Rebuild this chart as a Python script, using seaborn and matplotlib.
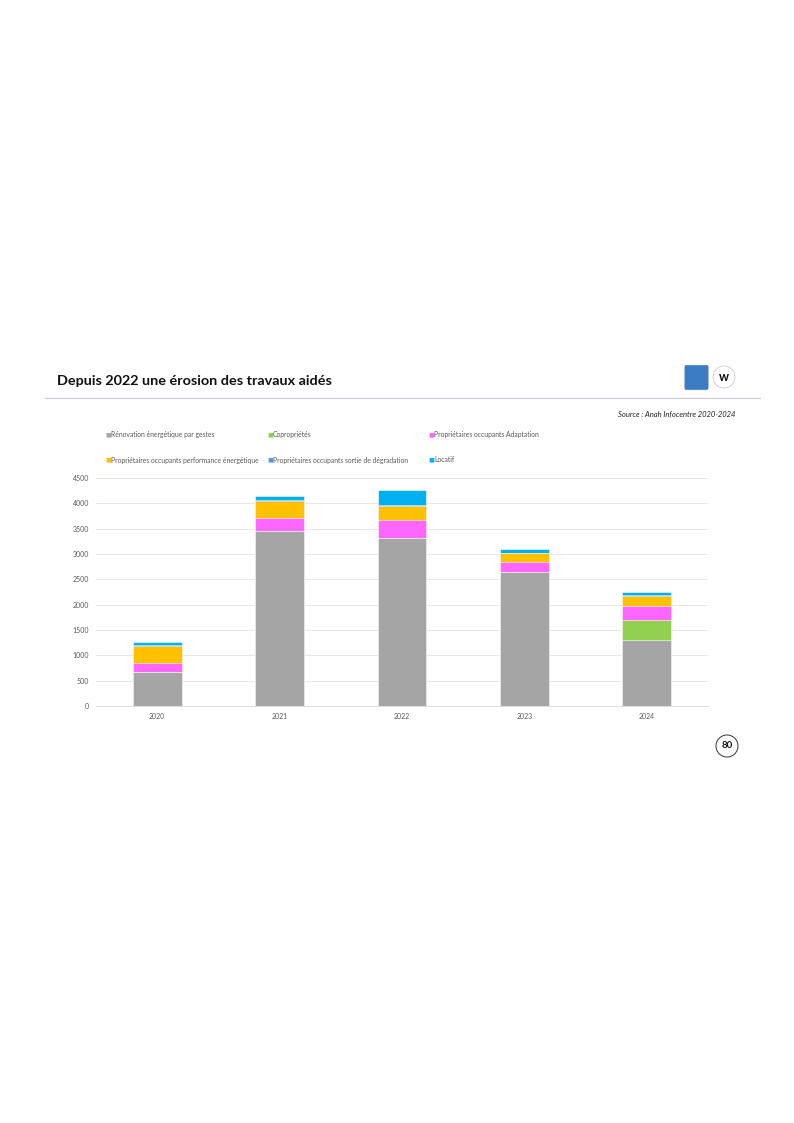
import numpy as np
import pandas as pd
import matplotlib.pyplot as plt
import matplotlib.patches as mpatches
import seaborn as sns

years = ["2020", "2021", "2022", "2023", "2024"]
renovation_gestes = [680, 3445, 3315, 2635, 1305]
coproprietes = [0, 0, 0, 0, 395]
po_adaptation = [165, 275, 360, 215, 265]
po_performance = [330, 335, 275, 160, 215]
po_sortie_degradation = [35, 15, 15, 15, 15]
locatif = [50, 75, 305, 75, 60]

series_names = [
    "Rénovation énergétique par gestes",
    "Copropriétés",
    "Propriétaires occupants Adaptation",
    "Propriétaires occupants performance énergétique",
    "Propriétaires occupants sortie de dégradation",
    "Locatif",
]
series_values = [renovation_gestes, coproprietes, po_adaptation,
                 po_performance, po_sortie_degradation, locatif]
colors = ["#a5a5a5", "#92d050", "#ff66ff", "#ffc000", "#5b9bd5", "#00b0f0"]

sns.set_theme(style="white")
plt.rcParams["font.family"] = ["Lato", "DejaVu Sans"]

fig = plt.figure(figsize=(7.94, 11.23), dpi=100)

# header
fig.text(57 / 794, 1 - 381 / 1123, "Depuis 2022 une érosion des travaux aidés",
         fontsize=10.4, fontweight="bold", color="#111111", va="center")
fig.add_artist(plt.Line2D([45 / 794, 760 / 794], [1 - 398 / 1123] * 2,
                          color="#c9c9e6", linewidth=0.8))
fig.text(735 / 794, 1 - 414 / 1123, "Source : Anah Infocentre 2020-2024",
         fontsize=5.5, style="italic", color="#222222", ha="right", va="center")

# logos (simple shapes)
fig.add_artist(mpatches.FancyBboxPatch((686 / 794, 1 - 388 / 1123), 21 / 794, 21 / 1123,
                                       boxstyle="round,pad=0.001", color="#3b7cc4",
                                       transform=fig.transFigure))
fig.add_artist(mpatches.Ellipse((724 / 794, 1 - 377 / 1123), 22 / 794, 22 / 1123,
                                facecolor="white", edgecolor="#cccccc", linewidth=0.6,
                                transform=fig.transFigure))
fig.text(724 / 794, 1 - 377 / 1123, "w", fontsize=9, fontweight="bold",
         color="#111111", ha="center", va="center")

# legend
leg_x = [105, 267, 428, 105, 267, 428]
leg_y = [435, 435, 435, 460, 460, 460]
for name, col, lx, ly in zip(series_names, colors, leg_x, leg_y):
    fig.text(lx / 794, 1 - ly / 1123, "■", fontsize=4.5, color=col, va="center")
    fig.text((lx + 6) / 794, 1 - ly / 1123, name, fontsize=4.9,
             color="#595959", va="center")

# chart
ax = fig.add_axes([96 / 794, 1 - 706 / 1123, 612 / 794, 228 / 1123])
cum = np.cumsum(np.array(series_values), axis=0)
for i in range(len(series_names) - 1, -1, -1):
    df = pd.DataFrame({"year": years, "value": cum[i]})
    sns.barplot(data=df, x="year", y="value", color=colors[i], width=0.4,
                saturation=1, edgecolor="white", linewidth=0.4, ax=ax, zorder=3)

ax.set_ylim(0, 4500)
ax.set_xlim(-0.5, 4.5)
ax.set_yticks(range(0, 4501, 500))
ax.yaxis.grid(True, color="#e3e3e3", linewidth=0.6, zorder=0)
ax.set_xlabel("")
ax.set_ylabel("")
ax.tick_params(axis="both", labelsize=5, labelcolor="#595959", length=0, pad=5)
for s in ["top", "right", "left"]:
    ax.spines[s].set_visible(False)
ax.spines["bottom"].set_color("#d9d9d9")
ax.spines["bottom"].set_linewidth(0.6)

# page number
fig.add_artist(mpatches.Ellipse((727 / 794, 1 - 746 / 1123), 22 / 794, 22 / 1123,
                                facecolor="white", edgecolor="#333333", linewidth=0.7,
                                transform=fig.transFigure))
fig.text(727 / 794, 1 - 746 / 1123, "80", fontsize=7, fontweight="bold",
         color="#111111", ha="center", va="center")

plt.savefig("out.png", dpi=100)
plt.close()
